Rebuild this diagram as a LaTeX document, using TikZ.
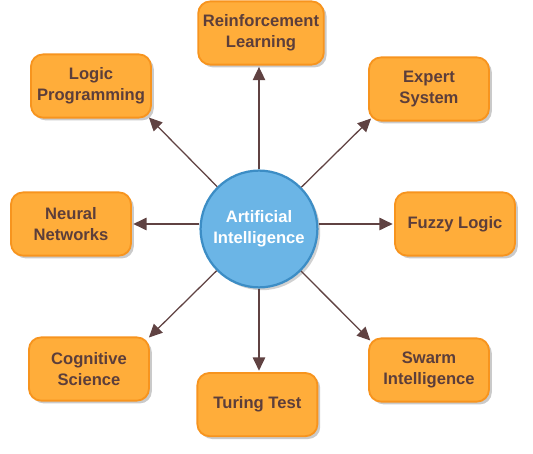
\documentclass[tikz,border=0pt]{standalone}
\usepackage{fontspec}
\setmainfont{Liberation Sans}
\usepackage{xcolor}
\usetikzlibrary{arrows.meta,shadows}
\definecolor{boxfill}{RGB}{255,173,58}
\definecolor{boxline}{RGB}{247,148,30}
\definecolor{hubfill}{RGB}{107,181,230}
\definecolor{hubline}{RGB}{60,141,197}
\definecolor{txtbrown}{RGB}{92,62,58}
\definecolor{arrbrown}{RGB}{96,66,66}

\begin{document}
\begin{tikzpicture}[
x=1cm,
y=1cm,
every node/.style={font=\fontsize{11.8}{14.6}\selectfont\bfseries},
topic/.style={rectangle,rounded corners=0.3cm,draw=boxline,line width=1.3pt,fill=boxfill,text=txtbrown,align=center,minimum width=3.0cm,minimum height=1.58cm,drop shadow={shadow xshift=2pt,shadow yshift=-2pt,opacity=0.35,fill=black!60}},
hub/.style={circle,draw=hubline,line width=1.6pt,fill=hubfill,text=white,align=center,minimum size=2.92cm,inner sep=0pt,drop shadow={shadow xshift=2pt,shadow yshift=-2pt,opacity=0.3,fill=black!60}},
arr/.style={-{Triangle[length=3.3mm,width=3.1mm]},draw=arrbrown,line width=0.9pt,shorten >=1pt}
]
\useasboundingbox (-6.475,-5.625) rectangle (6.85,5.725);

\node[hub] (ai) at (0,0) {Artificial\\Intelligence};
\node[topic] (reinf) at (0.05,4.9) {Reinforcement\\Learning};
\node[topic] (logic) at (-4.2,3.575) {Logic\\Programming};
\node[topic] (expert) at (4.25,3.5) {Expert\\System};
\node[topic] (neural) at (-4.7,0.125) {Neural\\Networks};
\node[topic] (fuzzy) at (4.9,0.125) {Fuzzy Logic};
\node[topic] (cogsci) at (-4.25,-3.5) {Cognitive\\Science};
\node[topic] (turing) at (-0.04,-4.39) {Turing Test};
\node[topic] (swarm) at (4.25,-3.525) {Swarm\\Intelligence};

\draw[arr] (ai) -- (ai |- reinf.south);
\draw[arr] (ai) -- ([shift={(-0.1,0.05)}]logic.south east);
\draw[arr] (ai) -- ([shift={(0.1,0.1)}]expert.south west);
\draw[arr] (ai.west |- neural.east) -- (neural.east);
\draw[arr] (ai.east |- fuzzy.west) -- (fuzzy.west);
\draw[arr] (ai) -- ([shift={(-0.05,-0.05)}]cogsci.north east);
\draw[arr] (ai) -- (ai |- turing.north);
\draw[arr] (ai) -- ([shift={(0.08,-0.1)}]swarm.north west);
\end{tikzpicture}
\end{document}
